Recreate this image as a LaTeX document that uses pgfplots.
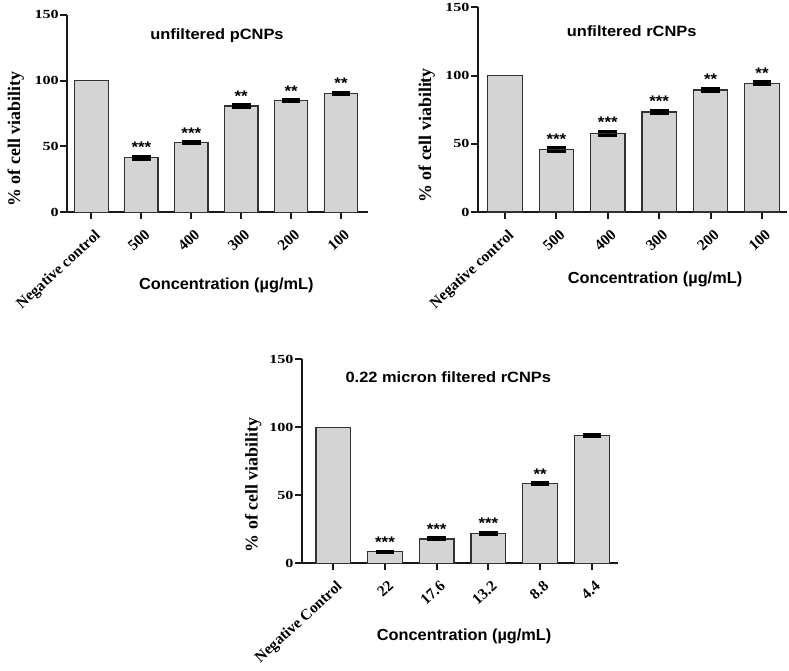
\documentclass[border=0pt]{standalone}
\usepackage{fontspec}
\usepackage{pgfplots}
\pgfplotsset{compat=1.18}
\usepackage{pgfplotstable}
\setmainfont{Liberation Serif}
\newfontfamily\sansS{Liberation Sans}[FakeStretch=1.1]
\newfontfamily\sansX{Liberation Sans}[FakeStretch=1.02]
\newfontfamily\serifS{Liberation Serif}[FakeStretch=1.3]
\newfontfamily\serifN{Liberation Serif}
\definecolor{barfill}{RGB}{212,212,212}
\definecolor{baredge}{RGB}{50,50,50}
\definecolor{axcol}{RGB}{25,25,25}

\pgfplotstableread{
x y e
1 41.5 1.2
2 52.9 0.6
3 80.7 1.0
4 84.7 1.0
5 90.4 0.8
}\dataA
\pgfplotstableread{
x y e
1 45.7 1.3
2 57.7 1.5
3 73.3 1.3
4 89.4 1.3
5 94.3 1.0
}\dataB
\pgfplotstableread{
x y e
1 8.5 0.5
2 17.9 0.7
3 22.0 0.8
4 58.8 0.6
5 93.8 0.8
}\dataC

\pgfplotsset{
 panel/.style={
  scale only axis, clip=false,
  axis x line=bottom, axis y line=left,
  axis line style={-, line width=1.5pt, axcol},
  ymin=0, ymax=150, ytick={0,50,100,150},
  xtick={0,1,2,3,4,5},
  tick align=outside, major tick length=5pt,
  major tick style={line width=1.5pt, axcol},
  minor tick num=0,
  /pgf/number format/assume math mode=true,
  yticklabel style={font=\serifS\bfseries\fontsize{9.3}{9.3}\selectfont, inner sep=1pt},
  xticklabel style={rotate=42.5, anchor=north east, yshift=-5.5pt, xshift=-2.5pt, font=\serifN\bfseries\fontsize{11.5}{12}\selectfont, inner sep=1pt},
 },
 bars/.style={ybar, bar shift=0pt, bar width=0.67, fill=barfill, draw=baredge, line width=0.9pt},
 errs/.style={error bars/.cd, y dir=both, y explicit, error bar style={line width=1.2pt, black}, error mark options={rotate=90, black, line width=2.2pt, mark size=7pt}},
}
\tikzset{
 stars/.style={anchor=base, yshift=2.5pt, inner sep=0pt, font=\sansS\bfseries\fontsize{11.5}{12}\selectfont},
 ttl/.style={font=\sansS\bfseries\fontsize{11.2}{13}\selectfont, inner sep=0pt},
 xlab/.style={font=\sansX\bfseries\fontsize{12}{14}\selectfont, inner sep=0pt},
 ylab/.style={rotate=90, font=\serifN\bfseries\fontsize{13.4}{14}\selectfont, inner sep=0pt},
}

\begin{document}
\begin{tikzpicture}
\path[use as bounding box] (0pt,0pt) rectangle (591.75pt,503.25pt);

% Panel A
\begin{axis}[panel, at={(50.25pt,344.03pt)}, anchor=south west,
  width=225.75pt, height=148.2pt, xmin=-0.49, xmax=5.54,
  xticklabels={Negative control,500,400,300,200,100}]
\addplot[bars] coordinates {(0,100)};
\addplot[bars, errs] table[x=x, y=y, y error=e] {\dataA};
\node[stars] at (axis cs:1,42.7) {***};
\node[stars] at (axis cs:2,53.5) {***};
\node[stars] at (axis cs:3,81.7) {**};
\node[stars] at (axis cs:4,85.7) {**};
\node[stars] at (axis cs:5,91.2) {**};
\end{axis}

% Panel B
\begin{axis}[panel, at={(358.28pt,344.25pt)}, anchor=south west,
  width=231.75pt, height=153.5pt, xmin=-0.53, xmax=5.48,
  xticklabels={Negative control,500,400,300,200,100}]
\addplot[bars] coordinates {(0,100)};
\addplot[bars, errs] table[x=x, y=y, y error=e] {\dataB};
\node[stars] at (axis cs:1,47.0) {***};
\node[stars] at (axis cs:2,59.2) {***};
\node[stars] at (axis cs:3,74.6) {***};
\node[stars] at (axis cs:4,90.7) {**};
\node[stars] at (axis cs:5,95.3) {**};
\end{axis}

% Panel C
\begin{axis}[panel, at={(226.28pt,80.78pt)}, anchor=south west,
  width=237pt, height=153.2pt, xmin=-0.61, xmax=5.5,
  xticklabels={Negative Control,22,17.6,13.2,8.8,4.4}]
\addplot[bars] coordinates {(0,100)};
\addplot[bars, errs] table[x=x, y=y, y error=e] {\dataC};
\node[stars] at (axis cs:1,9.0) {***};
\node[stars] at (axis cs:2,18.6) {***};
\node[stars] at (axis cs:3,22.8) {***};
\node[stars] at (axis cs:4,59.4) {**};
\end{axis}

% titles
\node[ttl] at (162.75pt,476.25pt) {unfiltered pCNPs};
\node[ttl] at (473.8pt,479.5pt) {unfiltered rCNPs};
\node[ttl] at (336.2pt,220.7pt) {0.22 micron filtered rCNPs};
% y labels
\node[ylab] at (11.85pt,398.85pt) {\% of cell viability};
\node[ylab] at (320pt,401.7pt) {\% of cell viability};
\node[ylab] at (190pt,139.5pt) {\% of cell viability};
% x labels
\node[xlab] at (169.7pt,289.1pt) {Concentration (µg/mL)};
\node[xlab] at (491.25pt,294pt) {Concentration (µg/mL)};
\node[xlab] at (348.1pt,26.25pt) {Concentration (µg/mL)};
\end{tikzpicture}
\end{document}
